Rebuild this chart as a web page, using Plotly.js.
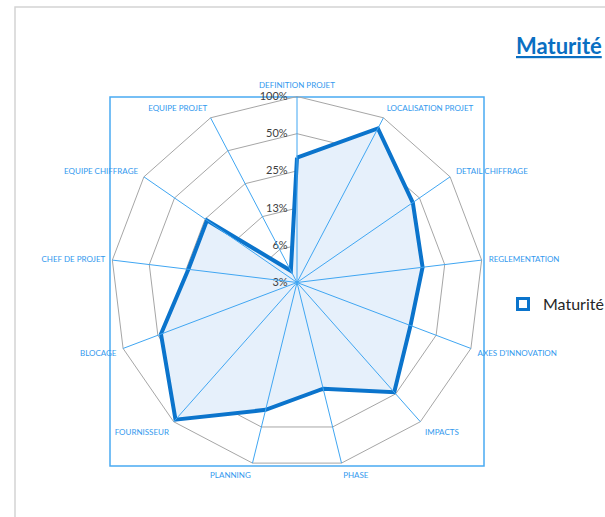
<!DOCTYPE html>
<html>
<head>
<meta charset="utf-8">
<script src="https://cdn.plot.ly/plotly-3.0.1.min.js"></script>
<style>html,body{margin:0;padding:0;background:#fff;}#chart{width:605px;height:517px;}</style>
</head>
<body>
<div id="chart"></div>
<script>
// Data
var categories = ["DEFINITION PROJET","LOCALISATION PROJET","DETAIL CHIFFRAGE","REGLEMENTATION","AXES D'INNOVATION","IMPACTS","PHASE","PLANNING","FOURNISSEUR","BLOCAGE","CHEF DE PROJET","EQUIPE CHIFFRAGE","EQUIPE PROJET"];
var maturite = [0.32, 0.80, 0.43, 0.33, 0.30, 0.48, 0.24, 0.36, 0.95, 0.47, 0.24, 0.24, 0.04];
var radialTickVals = [0.03125, 0.0625, 0.125, 0.25, 0.5, 1];
var radialTickText = ["3%", "6%", "13%", "25%", "50%", "100%"];
var seriesName = "Maturité";
var titleText = "Maturité";

var W = 605, H = 517;
var cx = 297, cy = 282.5, R = 186;
var dom = {x: [(cx - R) / W, (cx + R) / W], y: [1 - (cy + R) / H, 1 - (cy - R) / H]};
var labelFont = "Lato, 'Open Sans', sans-serif";
var spokeBlue = '#40a6f2';

var rClosed = maturite.concat([maturite[0]]);
var tClosed = categories.concat([categories[0]]);

var traces = [
  {
    type: 'scatterpolar',
    subplot: 'polar',
    r: rClosed,
    theta: tClosed,
    mode: 'lines',
    fill: 'toself',
    fillcolor: '#e6f0fb',
    line: {color: '#0b74cc', width: 4},
    showlegend: false,
    name: seriesName,
    hoverinfo: 'skip'
  },
  {
    // legend entry only; also carries the spoke layer drawn above the fill
    type: 'scatterpolar',
    subplot: 'polar2',
    r: categories.map(function () { return null; }),
    theta: categories,
    mode: 'markers',
    marker: {symbol: 'square', size: 11, color: '#ffffff', line: {color: '#0b74cc', width: 3}},
    name: seriesName,
    showlegend: true
  }
];

var layout = {
  width: W, height: H,
  margin: {l: 0, r: 0, t: 0, b: 0, autoexpand: false},
  paper_bgcolor: '#ffffff',
  font: {family: labelFont, color: '#404040'},
  showlegend: true,
  legend: {
    x: 503 / W, y: 1 - 304 / H, xanchor: 'left', yanchor: 'middle',
    font: {size: 16, color: '#262626', family: labelFont},
    itemwidth: 30, bgcolor: 'rgba(0,0,0,0)', borderwidth: 0
  },
  polar: {
    domain: dom,
    bgcolor: 'rgba(0,0,0,0)',
    gridshape: 'linear',
    angularaxis: {
      type: 'category',
      categoryorder: 'array',
      categoryarray: categories,
      direction: 'clockwise',
      rotation: 90,
      showline: true,
      linecolor: '#a6a6a6',
      linewidth: 1,
      showgrid: false,
      ticks: 'outside',
      ticklen: 5,
      tickcolor: 'rgba(0,0,0,0)',
      tickfont: {size: 8, color: '#3399ee', family: labelFont}
    },
    radialaxis: {
      type: 'log',
      range: [Math.log10(0.03125), 0],
      angle: 90,
      side: 'counterclockwise',
      tickangle: 90,
      tickvals: radialTickVals,
      ticktext: radialTickText,
      tickfont: {size: 11, color: '#404040'},
      showline: false,
      ticks: 'outside',
      ticklen: 5,
      tickcolor: 'rgba(0,0,0,0)',
      gridcolor: '#a6a6a6',
      gridwidth: 1
    }
  },
  polar2: {
    domain: dom,
    bgcolor: 'rgba(0,0,0,0)',
    gridshape: 'linear',
    angularaxis: {
      type: 'category',
      categoryorder: 'array',
      categoryarray: categories,
      direction: 'clockwise',
      rotation: 90,
      showline: false,
      showgrid: true,
      gridcolor: spokeBlue,
      gridwidth: 1,
      ticks: '',
      showticklabels: false
    },
    radialaxis: {
      range: [0, 1],
      angle: 15,
      showgrid: false,
      showline: false,
      showticklabels: false,
      ticks: ''
    }
  },
  shapes: [
    {type: 'rect', xref: 'paper', yref: 'paper', x0: 15 / W, x1: 1.02, y0: -0.02, y1: 1 - 7 / H,
     line: {color: '#d4d4d4', width: 1.5}, fillcolor: 'rgba(0,0,0,0)', layer: 'below'},
    {type: 'rect', xref: 'paper', yref: 'paper', x0: 110 / W, x1: 484 / W, y0: 1 - 466 / H, y1: 1 - 97 / H,
     line: {color: '#4aaaf2', width: 1.5}, fillcolor: 'rgba(0,0,0,0)', layer: 'below'}
  ],
  annotations: [
    {text: '<b><u>' + titleText + '</u></b>', xref: 'paper', yref: 'paper', x: 514 / W, y: 1 - 45 / H,
     xanchor: 'left', yanchor: 'middle', showarrow: false,
     font: {size: 22, color: '#0a6fc2', family: labelFont}}
  ]
};

Plotly.newPlot('chart', traces, layout, {displayModeBar: false, staticPlot: true});
</script>
</body>
</html>
